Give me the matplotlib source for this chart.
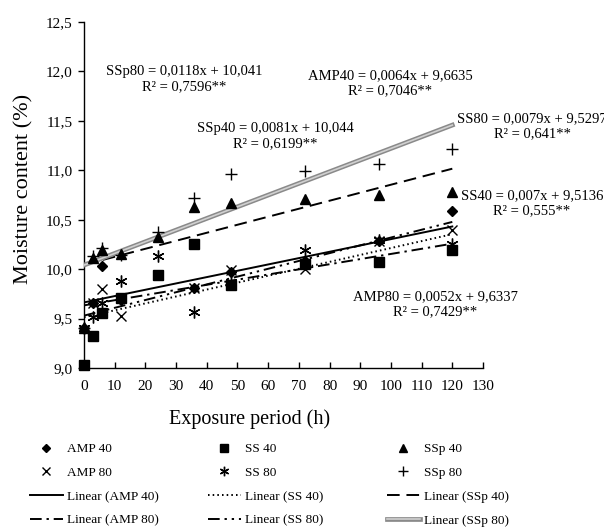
import numpy as np
import matplotlib
matplotlib.use('Agg')
import matplotlib.pyplot as plt
import matplotlib.patheffects as pe
from matplotlib.ticker import FuncFormatter, MultipleLocator

plt.rcParams['font.family'] = ['Liberation Serif', 'DejaVu Serif']

# exposure period (h)
hours = [0, 3, 6, 12, 24, 36, 48, 72, 96, 120]

# moisture content (%)
amp40 = [9.40, 9.66, 10.03, 9.69, 9.94, 9.81, 9.97, 10.08, 10.28, 10.59]
ss40 = [9.03, 9.32, 9.56, 9.71, 9.94, 10.25, 9.84, 10.05, 10.07, 10.19]
ssp40 = [9.40, 10.11, 10.19, 10.15, 10.33, 10.63, 10.67, 10.71, 10.75, 10.78]
amp80 = [9.03, 9.66, 9.80, 9.53, 9.94, 9.81, 9.99, 10.00, 10.28, 10.40]
ss80 = [9.40, 9.52, 9.66, 9.88, 10.13, 9.57, 9.87, 10.19, 10.29, 10.25]
ssp80 = [9.40, 10.13, 10.21, 10.14, 10.38, 10.72, 10.96, 10.99, 11.06, 11.22]

# regression coefficients printed on the chart
slopes = {'AMP 40': 0.0064, 'SS 40': 0.007, 'SSp 40': 0.0081,
          'AMP 80': 0.0052, 'SS 80': 0.0079, 'SSp 80': 0.0118}
intercepts = {'AMP 40': 9.6635, 'SS 40': 9.5136, 'SSp 40': 10.044,
              'AMP 80': 9.6337, 'SS 80': 9.5297, 'SSp 80': 10.041}
equations = {'SSp 80': ('SSp80 = 0,0118x + 10,041', 'R² = 0,7596**'),
             'AMP 40': ('AMP40 = 0,0064x + 9,6635', 'R² = 0,7046**'),
             'SSp 40': ('SSp40 = 0,0081x + 10,044', 'R² = 0,6199**'),
             'SS 80': ('SS80 = 0,0079x + 9,5297', 'R² = 0,641**'),
             'SS 40': ('SS40 = 0,007x + 9,5136', 'R² = 0,555**'),
             'AMP 80': ('AMP80 = 0,0052x + 9,6337', 'R² = 0,7429**')}

W, H = 604, 529
fig = plt.figure(figsize=(W / 100, H / 100), dpi=100)


def fpos(x, y):
    # figure pixels from top-left -> figure fraction
    return x / W, 1 - y / H


ax = fig.add_axes([84 / W, 1 - 368 / H, 399 / W, 346 / H])

series = [('AMP 40', amp40, dict(marker='D', ms=4.8)),
          ('SS 40', ss40, dict(marker='s', ms=6.5)),
          ('SSp 40', ssp40, dict(marker='^', ms=7.5)),
          ('AMP 80', amp80, dict(marker='x', ms=7.5, mew=1.0)),
          ('SS 80', ss80, dict(marker=(6, 2, 0), ms=8.5, mew=1.0)),
          ('SSp 80', ssp80, dict(marker='+', ms=9, mew=1.0))]

pts = {}
for name, vals, kw in series:
    pts[name], = ax.plot(hours, vals, ls='none', color='black', mec='black',
                         label=name, clip_on=False, zorder=4, **kw)

line_styles = {'AMP 40': dict(ls='-'),
               'SS 40': dict(ls=(0, (0.8, 1.6))),
               'SSp 40': dict(ls=(0, (6.5, 3.5))),
               'AMP 80': dict(ls=(0, (6, 2.5, 1.2, 2.5))),
               'SS 80': dict(ls=(0, (6, 2.5, 1.2, 2.5, 1.2, 2.5))),
               'SSp 80': dict(ls='-', color='#d0d0d0', lw=1.2,
                              path_effects=[pe.Stroke(linewidth=3.4, foreground='#8a8a8a'),
                                            pe.Normal()])}

xfit = np.array([min(hours), max(hours)])
fits = {}
for name in slopes:
    kw = dict(color='black', lw=1.4)
    kw.update(line_styles[name])
    fits[name], = ax.plot(xfit, slopes[name] * xfit + intercepts[name],
                          label='Linear (%s)' % name, zorder=3, **kw)

ax.set_xlim(0, 130)
ax.set_ylim(9.0, 12.5)
ax.xaxis.set_major_locator(MultipleLocator(10))
ax.yaxis.set_major_locator(MultipleLocator(0.5))
ax.yaxis.set_major_formatter(FuncFormatter(lambda v, p: ('%.1f' % v).replace('.', ',')))
for s in ['top', 'right']:
    ax.spines[s].set_visible(False)
for s in ['left', 'bottom']:
    ax.spines[s].set_linewidth(1.0)
ax.tick_params(axis='x', direction='in', length=4, width=1, labelsize=11, pad=9)
ax.tick_params(axis='y', direction='out', length=4, width=1, labelsize=11, pad=4)

fig.text(*fpos(250, 419), 'Exposure period (h)', ha='center', va='center', fontsize=14.5)
fig.text(*fpos(24, 189), 'Moisture content (%)', ha='center', va='center',
         rotation=90, fontsize=16)

label_pos = {'SSp 80': (184, 79), 'AMP 40': (390, 83), 'SSp 40': (275, 136),
             'SS 80': (532, 126), 'SS 40': (532, 203), 'AMP 80': (435, 304)}
for name, (eq, r2) in equations.items():
    fig.text(*fpos(*label_pos[name]), eq + '\n' + r2, ha='center', va='center',
             multialignment='center', fontsize=10.5, linespacing=1.2)

cols = [['AMP 40', 'AMP 80'], ['SS 40', 'SS 80'], ['SSp 40', 'SSp 80']]
col_x = [30, 208, 387]
for names, x0 in zip(cols, col_x):
    handles = [pts[n] for n in names] + [fits[n] for n in names]
    fig.legend(handles=handles, loc='upper left', bbox_to_anchor=fpos(x0, 443),
               frameon=False, fontsize=9.5, handlelength=2.5, handletextpad=0.3,
               borderpad=0, borderaxespad=0, labelspacing=0.88, numpoints=1,
               markerscale=0.8)

fig.savefig('out.png', dpi=100)
